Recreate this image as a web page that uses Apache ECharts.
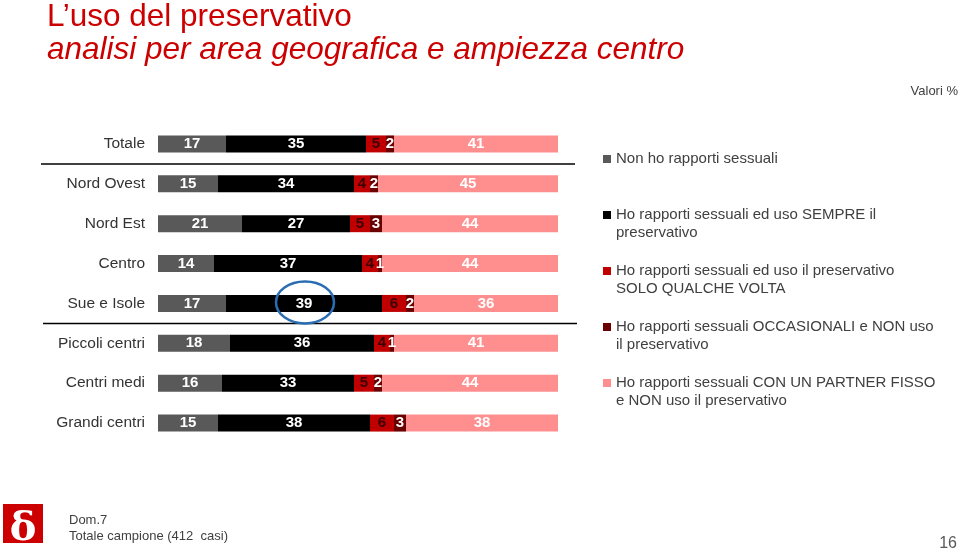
<!DOCTYPE html>
<html><head><meta charset="utf-8">
<script src="https://cdn.jsdelivr.net/npm/echarts@6/dist/echarts.min.js"></script>
<style>html,body{margin:0;padding:0;background:#fff}#c{width:960px;height:551px}</style>
</head><body><div id="c"></div>
<script>
const categories = ['Totale','Nord Ovest','Nord Est','Centro','Sue e Isole','Piccoli centri','Centri medi','Grandi centri'];
const seriesNames = [
  'Non ho rapporti sessuali',
  'Ho rapporti sessuali ed uso SEMPRE il preservativo',
  'Ho rapporti sessuali ed uso il preservativo SOLO QUALCHE VOLTA',
  'Ho rapporti sessuali OCCASIONALI e NON uso il preservativo',
  'Ho rapporti sessuali CON UN PARTNER FISSO e NON uso il preservativo'
];
const legendLabels = [
  'Non ho rapporti sessuali',
  'Ho rapporti sessuali ed uso SEMPRE il\npreservativo',
  'Ho rapporti sessuali ed uso il preservativo\nSOLO QUALCHE VOLTA',
  'Ho rapporti sessuali OCCASIONALI e NON uso\nil preservativo',
  'Ho rapporti sessuali CON UN PARTNER FISSO\ne NON uso il preservativo'
];
const nonRapporti = [17,15,21,14,17,18,16,15];
const sempre      = [35,34,27,37,39,36,33,38];
const qualche     = [5,4,5,4,6,4,5,6];
const occasionali = [2,2,3,1,2,1,2,3];
const fisso       = [41,45,44,44,36,41,44,38];
const values = [nonRapporti, sempre, qualche, occasionali, fisso];
const colors = ['#595959','#000000','#c00000','#6b0000','#ff8f8f'];
const labelColors = ['#ffffff','#ffffff','#3a0000','#ffffff','#ffffff'];
const highlighted = {category: 'Sue e Isole', series: 1};

const chart = echarts.init(document.getElementById('c'), null, {renderer: 'canvas'});
const FONT = '"Liberation Sans", Arial, sans-serif';

// square icon drawn in the top part of a tall box, so it lines up with the first text line
const ICON_TOP_SQUARE = 'path://M0,0L8,0L8,8L0,8Z M0,26L0.001,26';
const legendFirstLine = [159, 215, 271, 327, 383];
const legends = seriesNames.map((n, i) => {
  const two = legendLabels[i].indexOf('\n') >= 0;
  return {
    orient: 'vertical', left: 603, top: legendFirstLine[i] - 9, padding: 0,
    itemWidth: 8, itemHeight: two ? 26 : 8, icon: two ? ICON_TOP_SQUARE : 'rect', selectedMode: false,
    data: [{name: n}],
    formatter: () => legendLabels[i],
    textStyle: {fontFamily: FONT, fontSize: 15, lineHeight: 18, color: '#404040'}
  };
});

chart.setOption({
  animation: false,
  backgroundColor: '#ffffff',
  textStyle: {fontFamily: FONT},
  title: [
    {text: 'L\u2019uso del preservativo', left: 47, top: 0, padding: 0,
     textStyle: {fontFamily: FONT, fontSize: 31.5, lineHeight: 34, fontWeight: 'normal', color: '#cc0000'}},
    {text: 'analisi per area geografica e ampiezza centro', left: 47, top: 33, padding: 0,
     textStyle: {fontFamily: FONT, fontSize: 31.5, lineHeight: 34, fontWeight: 'normal', fontStyle: 'italic', color: '#cc0000'}},
    {text: 'Valori %', right: 2, top: 83, padding: 0,
     textStyle: {fontFamily: FONT, fontSize: 13, lineHeight: 16, fontWeight: 'normal', color: '#404040'}},
    {text: 'Dom.7\nTotale campione (412  casi)', left: 69, top: 512, padding: 0,
     textStyle: {fontFamily: FONT, fontSize: 13, lineHeight: 16, fontWeight: 'normal', color: '#404040'}},
    {text: '16', right: 3, top: 535, padding: 0,
     textStyle: {fontFamily: FONT, fontSize: 16, lineHeight: 18, fontWeight: 'normal', color: '#595959'}}
  ],
  legend: legends,
  grid: {left: 158, top: 124, width: 400, height: 319, containLabel: false, outerBoundsMode: 'none'},
  xAxis: {type: 'value', min: 0, max: 100, show: false},
  yAxis: {
    type: 'category', data: categories, inverse: true,
    axisLine: {show: false}, axisTick: {show: false}, splitLine: {show: false},
    axisLabel: {margin: 13, fontFamily: FONT, fontSize: 15.5, color: '#333333'}
  },
  series: values.map((v, i) => ({
    name: seriesNames[i], type: 'bar', stack: 'tot', barWidth: 17, data: v,
    itemStyle: {color: colors[i]},
    label: {show: true, position: 'inside', formatter: '{c}', fontFamily: FONT, fontSize: 15,
            fontWeight: 'bold', color: labelColors[i]},
    emphasis: {disabled: true}
  }))
});

function px(x, cat) { return chart.convertToPixel({gridIndex: 0}, [x, cat]); }
const y0 = px(0, categories[0])[1], y1 = px(0, categories[1])[1];
const y4 = px(0, categories[4])[1], y5 = px(0, categories[5])[1];
const hi = categories.indexOf(highlighted.category);
let start = 0;
for (let s = 0; s < highlighted.series; s++) start += values[s][hi];
const hc = px(start + values[highlighted.series][hi] / 2, highlighted.category);

chart.setOption({
  graphic: [
    {type: 'line', shape: {x1: 41, y1: (y0 + y1) / 2, x2: 575, y2: (y0 + y1) / 2}, style: {stroke: '#000', lineWidth: 1.5}},
    {type: 'line', shape: {x1: 43, y1: (y4 + y5) / 2, x2: 577, y2: (y4 + y5) / 2}, style: {stroke: '#000', lineWidth: 1.5}},
    {type: 'ellipse', shape: {cx: hc[0] + 1, cy: hc[1] - 1, rx: 29, ry: 21}, style: {fill: null, stroke: '#2a6db3', lineWidth: 2.5}, z: 100},
    {type: 'rect', shape: {x: 3, y: 504, width: 40, height: 39}, style: {fill: '#cc0000'}},
    {type: 'text', x: 23, y: 530, style: {text: '\u03b4', fill: '#ffffff', font: 'bold 40px "DejaVu Serif", serif', align: 'center', verticalAlign: 'middle'}}
  ]
});
</script></body></html>
